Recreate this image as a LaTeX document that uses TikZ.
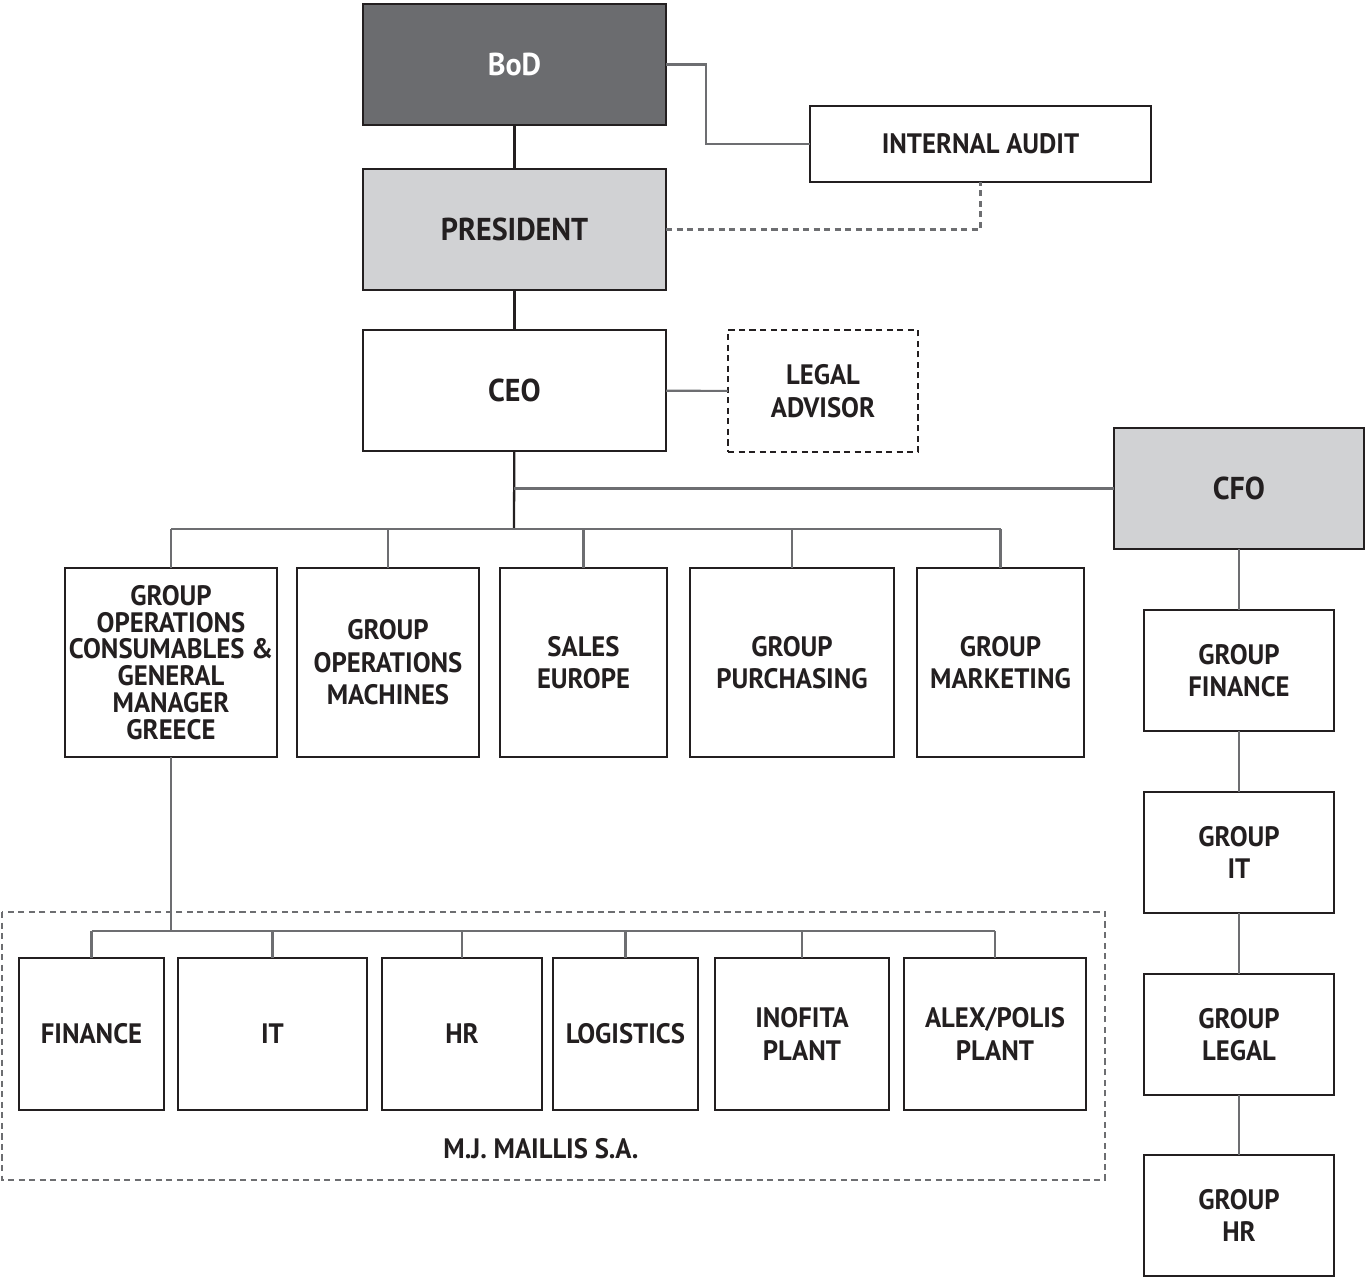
\documentclass[tikz,border=0pt]{standalone}
\usepackage{fontspec}
\setmainfont[FakeStretch=0.95]{PT Sans}
\definecolor{bodgray}{HTML}{6B6C6F}
\definecolor{palegray}{HTML}{D1D2D4}
\definecolor{linegray}{HTML}{6D6E71}
\definecolor{inkblack}{HTML}{231F20}

\begin{document}
\begin{tikzpicture}[x=0.02cm,y=-0.02cm,line join=miter,
  font=\fontsize{16}{18.5}\selectfont\bfseries,
  box/.style={draw=inkblack,line width=1.4pt,inner sep=0pt,outer sep=0pt,align=center,text=inkblack},
  topbox/.style={box,font=\fontsize{18}{21}\selectfont\bfseries},
  wh/.style 2 args={minimum width=#1*0.02cm,minimum height=#2*0.02cm},
  link/.style={draw=linegray,line width=1.2pt},
  mainlink/.style={draw=inkblack,line width=1.3pt},
  dashlink/.style={link,dash pattern=on 3.5pt off 2.5pt}]
\useasboundingbox (0,0) rectangle (1365,1277);
% top of the chart
\node[topbox,wh={303}{121},fill=bodgray,text=white] (bod) at (514.5,64.5) {BoD};
\node[topbox,wh={303}{121},fill=palegray] (pres) at (514.5,229.5) {PRESIDENT};
\node[box,wh={341}{76}] (audit) at (980.5,144) {INTERNAL AUDIT};
\node[topbox,wh={303}{121}] (ceo) at (514.5,390.5) {CEO};
\node[box,wh={190}{122},dash pattern=on 3.5pt off 2.5pt] (legal) at (823,391) {LEGAL\\ADVISOR};
\node[topbox,wh={250}{121},fill=palegray] (cfo) at (1239,488.5) {CFO};
% group level
\node[box,wh={212}{189},font=\fontsize{16}{15.2}\selectfont\bfseries] (gopc) at (171,662.5) {GROUP\\OPERATIONS\\CONSUMABLES \&\\GENERAL\\MANAGER\\GREECE};
\node[box,wh={182}{189}] (gopm) at (388,662.5) {GROUP\\OPERATIONS\\MACHINES};
\node[box,wh={167}{189}] (sales) at (583.5,662.5) {SALES\\EUROPE};
\node[box,wh={204}{189}] (purch) at (792,662.5) {GROUP\\PURCHASING};
\node[box,wh={167}{189}] (mkt) at (1000.5,662.5) {GROUP\\MARKETING};
% under the CFO
\node[box,wh={190}{121}] (gfin) at (1239,670.5) {GROUP\\FINANCE};
\node[box,wh={190}{121}] (git) at (1239,852.5) {GROUP\\IT};
\node[box,wh={190}{121}] (glegal) at (1239,1034.5) {GROUP\\LEGAL};
\node[box,wh={190}{121}] (ghr) at (1239,1215.5) {GROUP\\HR};
% M.J. Maillis S.A.
\draw[dashlink] (2,912) rectangle (1105,1180);
\node[text=inkblack] (mjm) at (541,1149) {M.J. MAILLIS S.A.};
\node[box,wh={145}{152}] (fin) at (91.5,1034) {FINANCE};
\node[box,wh={189}{152}] (it) at (272.5,1034) {IT};
\node[box,wh={160}{152}] (hr) at (462,1034) {HR};
\node[box,wh={145}{152}] (logi) at (625.5,1034) {LOGISTICS};
\node[box,wh={174}{152}] (inof) at (802,1034) {INOFITA\\PLANT};
\node[box,wh={182}{152}] (alex) at (995,1034) {ALEX/POLIS\\PLANT};
\coordinate (topbus) at (514,529);
\coordinate (lowbus) at (171,931);
% connectors
\draw[mainlink] (bod) -- (pres);
\draw[mainlink] (pres) -- (ceo);
\draw[mainlink] (ceo) -- (topbus);
\draw[link] (bod.east) -- ++(40,0) |- (audit.west);
\draw[dashlink] (pres.east) -| (audit.south);
\draw[link] (ceo) -- (legal);
\draw[link] (cfo.west) -- (cfo.west -| topbus);
\draw[link] (gopc.north |- topbus) -- (mkt.north |- topbus);
\foreach \n in {gopc,gopm,sales,purch,mkt}
  \draw[link] (\n.north) -- (\n.north |- topbus);
\draw[link] (gopc) -- (lowbus);
\draw[link] (fin.north |- lowbus) -- (alex.north |- lowbus);
\foreach \n in {fin,it,hr,logi,inof,alex}
  \draw[link] (\n.north) -- (\n.north |- lowbus);
\draw[link] (cfo) -- (gfin) -- (git) -- (glegal) -- (ghr);
\end{tikzpicture}
\end{document}
